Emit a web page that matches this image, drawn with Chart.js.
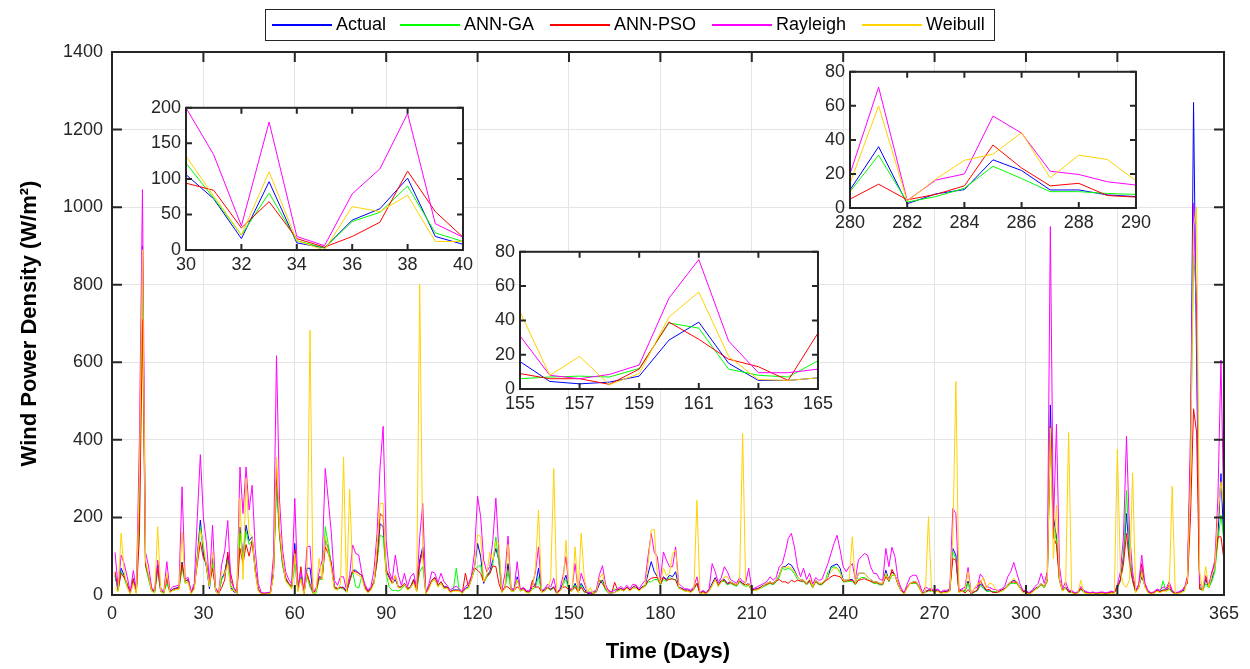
<!DOCTYPE html>
<html>
<head>
<meta charset="utf-8">
<script src="https://cdn.jsdelivr.net/npm/chart.js@4.4.1/dist/chart.umd.min.js"></script>
<style>
  body { margin: 0; background: #fff; width: 1250px; height: 669px; position: relative; overflow: hidden; }
  canvas { position: absolute; }
</style>
</head>
<body>
<canvas id="main" width="1250" height="669" style="left:0;top:0"></canvas>
<canvas id="inset1"></canvas>
<canvas id="inset2"></canvas>
<canvas id="inset3"></canvas>
<script>
const seriesNames = ['Actual', 'ANN-GA', 'ANN-PSO', 'Rayleigh', 'Weibull'];
const seriesColors = ['#0000ff', '#00ff00', '#ff0000', '#ff00ff', '#ffd200'];
const xTicksMain = [0, 30, 60, 90, 120, 150, 180, 210, 240, 270, 300, 330, 365];
const yTicksMain = [0, 200, 400, 600, 800, 1000, 1200, 1400];

// day index 1..365
const days = Array.from({ length: 365 }, (_, i) => i + 1);

const actual = [
  50,12,69,50,25,5,40,8,250,900, 80,45,12,8,77,12,5,45,9,15, 18,20,85,35,40,5,20,100,193,106,
  72,16,96,10,3,42,58,101,19,8, 5,175,100,180,140,150,70,15,5,4, 5,6,60,300,159,80,40,30,21,133,
  13,47,4,69,69,5,13,47,45,141, 120,81,21,17,20,20,9,38,64,64, 56,51,21,9,17,34,90,184,176,60,
  45,30,40,20,21,30,17,21,40,13, 90,124,4,21,38,45,26,34,21,21, 9,13,13,13,6,17,21,47,73,133,
  100,30,50,60,90,120,90,9,21,81, 13,13,47,13,17,9,8,20,25,69, 9,13,21,15,21,4,13,30,51,13,
  13,30,9,30,16,4.4,3,4,7.5,28.5, 39,15,5,5,6.5,13,17,13,20,13, 21,20,13,21,25,56,86,60,47,30,
  47,40,51,47,60,21,17,13,13,9, 17,30,4,9,4,13,30,45,26,38, 40,30,34,30,26,38,30,26,30,13,
  15,17,21,26,30,34,30,38,51,73, 73,81,77,64,47,40,38,30,38,21, 38,30,30,38,45,73,77,80,69,38,
  38,40,40,30,56,56,56,47,40,34, 34,30,30,64,38,60,51,30,13,4, 21,30,34,34,21,4,9,13,13,9,
  13,6,9,9,13,120,103,9,13,10.6, 36,2.5,8.3,10.8,28.3,22,10.6,10.6,7.7,6.7, 9,13,17,26,34,38,34,21,9,9,
  4,9,17,21,30,21,40,490,200,150, 40,13,21,9,9,4,6,17,9,6, 5,6,4,5,6,4,5,8,6,20,
  40,100,210,100,40,9,21,47,26,9, 4,6,13,9,13,13,17,9,4,6, 9,13,40,350,1270,600,20,13,40,21,
  40,70,150,313,120
];
const annGA = [
  55,10,60,45,20,3,35,5,200,800, 75,40,10,6,60,8,4,30,7,12, 14,16,70,30,35,4,18,90,176,122,
  73,21,80,13,3,40,53,90,24,12, 4,160,90,165,130,140,60,12,4,3, 4,5,50,280,150,75,38,28,18,81,
  10,45,3,50,20,4,5,40,40,176, 130,75,18,15,18,15,7,35,60,21, 18,48,18,7,15,30,85,154,150,55,
  20,12,12,10,15,25,14,18,35,10, 60,73,3,18,35,40,22,30,18,18, 7,10,69,10,5,15,18,40,65,73,
  77,34,45,55,80,150,80,7,18,60, 10,10,40,10,14,7,6,15,20,47, 7,10,18,12,18,3,10,25,40,10,
  10,25,7,25,6,7,7.5,7,12,38.5, 35.5,11.6,8,7,16.4,10,14,10,18,10, 18,18,10,18,22,34,34,40,40,26,
  40,35,45,40,40,18,14,10,10,7, 14,30,3,7,3,10,25,40,22,34, 35,26,30,26,22,34,26,22,25,10,
  12,14,18,22,26,30,26,34,45,69, 65,69,65,55,40,35,34,26,34,18, 34,26,26,34,60,69,73,70,60,34,
  34,35,35,26,40,45,45,40,35,30, 30,26,26,56,34,51,51,26,10,3, 18,30,30,30,18,3,7,10,10,7,
  10,5,7,7,10,110,95,7,10,9.6, 31,3.5,6.7,11.6,24.5,17.3,9.6,9.6,8.5,8, 7,10,14,22,30,30,30,18,7,7,
  3,7,14,18,26,18,35,400,180,140, 35,10,18,7,7,3,5,14,7,5, 4,5,3,4,5,3,4,6,5,18,
  35,90,270,110,35,7,18,65,22,7, 3,5,10,7,36,10,14,7,3,5, 7,10,40,330,880,760,20,10,30,18,
  35,60,140,206,140
];
const annPSO = [
  60,15,56,45,30,6,43,6,150,710, 77,50,15,10,69,10,6,42,8,14, 16,18,80,38,38,6,22,80,137,94,
  84,31,68,16,4,19,39,111,54,18, 6,120,80,130,100,140,65,15,4,4, 5,5,55,330,160,85,45,30,22,116,
  12,73,4,56,30,5,12,45,42,124, 107,80,20,16,20,18,8,36,62,60, 56,50,20,8,16,35,88,210,202,65,
  50,30,50,20,20,30,16,20,40,12, 80,116,4,20,38,45,25,34,20,20, 8,12,12,12,6,56,20,42,70,64,
  56,34,48,55,75,73,30,8,21,21, 12,12,21,15,17,8,8,38,20,21, 8,12,20,14,20,4,12,20,21,12,
  12,20,8,20,9,6,6,2.7,11.6,39, 29,17.4,13,5,32.6,12,16,12,20,12, 20,26,12,20,24,38,43,45,45,28,
  45,38,40,42,38,20,16,12,12,8, 16,30,4,8,4,12,26,42,25,36, 38,28,32,28,25,36,30,25,28,12,
  14,16,20,25,28,32,28,36,40,34, 34,30,38,34,38,36,36,28,36,20, 36,28,28,36,40,47,51,49,47,36,
  36,38,38,28,38,40,42,38,36,32, 32,28,28,47,36,66,51,28,12,4, 20,30,32,32,20,4,8,12,12,8,
  12,6,8,8,12,94,90,8,12,5.2, 14,4.8,8,13,37,23.5,13,14.5,7.3,6.4, 8,12,16,25,32,34,32,20,8,8,
  4,8,16,20,28,20,38,435,150,130, 38,12,20,8,8,4,6,16,8,6, 5,6,4,5,6,4,5,7,6,20,
  38,80,159,80,38,8,20,81,25,8, 4,6,12,8,12,12,26,8,4,6, 8,21,30,200,480,420,15,13,47,22,
  60,81,150,150,90
];
const rayleigh = [
  110,20,103,81,47,8,63,12,400,1045, 110,75,20,12,90,18,8,86,12,22, 23,26,279,42,45,8,30,200,362,200,
  134,34,180,19,6,79,114,192,37,18, 10,330,210,330,219,283,120,30,6,5, 6,8,100,617,244,116,60,40,28,249,
  20,60,6,124,126,8,18,60,90,326, 244,159,38,25,47,47,12,50,129,107, 103,56,28,12,22,64,159,330,435,141,
  60,40,103,50,25,56,22,47,56,18, 150,236,6,28,60,56,32,56,34,25, 13,18,23,16,8,22,28,50,110,255,
  202,90,60,73,140,250,110,12,56,152, 16,16,86,13,20,12,10,25,60,124, 12,16,28,20,43,6,16,47,99,16,
  16,81,12,56,31,8,6,8.5,14,53, 75.5,28,9.5,9.5,11.6,16,22,16,25,16, 28,25,16,28,38,103,159,110,99,38,
  111,90,73,73,124,30,22,16,16,12, 22,47,6,12,6,16,81,60,32,45, 73,60,40,35,30,45,35,32,69,16,
  18,22,26,30,35,47,38,45,73,81, 110,146,159,124,73,47,69,40,56,28, 45,38,40,60,81,107,133,154,116,73,
  60,73,81,40,90,99,107,103,73,56, 55,40,38,120,73,123,99,40,18,6, 28,47,51,51,30,6,21,16,16,12,
  16,8,12,12,16,223,210,12,16,20, 71,4.4,16.4,20,54,44,21.6,19.7,15.4,13.5, 12,16,22,47,60,84,56,30,12,12,
  6,12,22,30,56,30,60,950,170,440, 73,16,34,12,12,6,8,22,12,8, 6,8,5,7,8,6,7,10,8,25,
  60,150,409,160,60,12,28,103,32,12, 6,8,16,12,21,16,34,12,6,8, 12,16,50,420,1010,740,30,16,50,26,
  55,90,250,606,180
];
const weibull = [
  20,8,159,60,20,2,30,4,300,890, 90,50,10,5,176,10,3,56,6,12, 14,15,163,30,32,3,15,90,167,132,
  76,21,110,13,0,61,54,77,12,12, 3,250,40,300,160,150,60,10,3,2, 3,4,50,355,170,90,35,25,15,107,
  8,40,2,55,683,3,10,94,40,150, 110,70,15,12,30,356,5,273,60,55, 50,45,15,5,12,30,125,236,236,47,
  40,28,50,18,18,28,12,20,30,8, 800,100,2,15,35,40,20,30,15,18, 6,10,10,10,4,14,18,40,70,156,
  150,34,50,110,90,137,133,6,18,130, 10,10,40,10,13,6,5,15,70,219, 6,10,18,40,326,2,10,21,141,10,
  10,124,6,159,45,8,19,2.5,9,42, 56.5,19,5.5,5,6.5,10,14,10,18,10, 18,18,10,18,25,81,167,169,50,30,
  70,50,56,107,116,20,14,10,10,6, 14,244,2,6,2,10,25,40,22,34, 47,47,34,30,26,38,416,22,30,10,
  12,14,18,26,30,34,30,38,50,73, 70,73,70,60,47,40,38,30,43,20, 38,30,30,38,47,60,69,69,56,38,
  38,40,150,30,56,56,56,47,40,34, 34,30,30,56,38,55,51,30,10,2, 18,30,34,34,20,2,8,202,10,6,
  10,4,6,6,10,150,551,6,10,14.5, 60,4,17,28,31.6,44.3,17.7,31,28.5,16, 6,10,14,26,34,43,34,20,6,6,
  2,6,14,20,30,20,40,430,94,232, 40,10,20,419,6,2,4,38,6,4, 3,4,2,3,4,2,3,5,4,376,
  60,26,20,40,315,6,18,56,22,6, 2,4,10,6,10,10,14,280,2,4, 6,10,40,300,950,1000,60,10,73,20,
  50,70,200,292,220
];
const seriesValues = [actual, annGA, annPSO, rayleigh, weibull];

// zoomed windows: day range and tick labels
const insetDefs = [
  { id: 'inset1', from: 30, to: 40, xTicks: [30, 32, 34, 36, 38, 40], yTicks: [0, 50, 100, 150, 200],
    box: { left: 186, top: 106, right: 463, bottom: 250 } },
  { id: 'inset2', from: 155, to: 165, xTicks: [155, 157, 159, 161, 163, 165], yTicks: [0, 20, 40, 60, 80],
    box: { left: 520, top: 250, right: 819, bottom: 389 } },
  { id: 'inset3', from: 280, to: 290, xTicks: [280, 282, 284, 286, 288, 290], yTicks: [0, 20, 40, 60, 80],
    box: { left: 850, top: 70, right: 1137, bottom: 208 } }
];

const FONT = "'Liberation Sans', Arial, sans-serif";
const AXIS = '#262626';
const plain = v => String(v);

function makeSets(from, to) {
  return seriesValues.map((vals, k) => ({
    label: seriesNames[k],
    data: days.map((d, i) => ({ x: d, y: vals[i] })).filter(p => p.x >= from && p.x <= to),
    borderColor: seriesColors[k],
    backgroundColor: seriesColors[k],
    borderWidth: 1,
    pointRadius: 0,
    tension: 0,
    order: seriesValues.length - k
  }));
}

// MATLAB-like box with inward ticks
const boxPlugin = {
  id: 'box',
  beforeDraw(chart, args, opts) {
    if (!opts.fill) return;
    const a = chart.chartArea, ctx = chart.ctx;
    ctx.save();
    ctx.fillStyle = '#fff';
    ctx.fillRect(a.left, a.top, a.right - a.left, a.bottom - a.top);
    ctx.restore();
  },
  afterDraw(chart, args, opts) {
    const a = chart.chartArea, ctx = chart.ctx;
    const xs = chart.scales.x, ys = chart.scales.y, L = opts.tick;
    ctx.save();
    ctx.strokeStyle = AXIS;
    ctx.lineWidth = opts.width;
    ctx.beginPath();
    xs.ticks.forEach(t => {
      const px = xs.getPixelForValue(t.value);
      ctx.moveTo(px, a.bottom); ctx.lineTo(px, a.bottom - L);
      ctx.moveTo(px, a.top); ctx.lineTo(px, a.top + L);
    });
    ys.ticks.forEach(t => {
      const py = ys.getPixelForValue(t.value);
      ctx.moveTo(a.left, py); ctx.lineTo(a.left + L, py);
      ctx.moveTo(a.right, py); ctx.lineTo(a.right - L, py);
    });
    ctx.stroke();
    ctx.strokeRect(a.left, a.top, a.right - a.left, a.bottom - a.top);
    ctx.restore();
  }
};

// boxed horizontal legend at the top of the figure
const legendX = [272, 400, 550, 712, 862];
const legendBox = {
  id: 'legendBox',
  afterDraw(chart) {
    const ctx = chart.ctx;
    ctx.save();
    ctx.fillStyle = '#fff';
    ctx.fillRect(265, 9, 730, 32);
    ctx.strokeStyle = AXIS;
    ctx.lineWidth = 1;
    ctx.strokeRect(265.5, 9.5, 729, 31);
    ctx.font = '18px ' + FONT;
    ctx.textBaseline = 'middle';
    seriesNames.forEach((name, k) => {
      const x = legendX[k];
      ctx.fillStyle = seriesColors[k];
      ctx.fillRect(x, 24, 60, 2);
      ctx.fillStyle = '#000';
      ctx.fillText(name, x + 64, 25);
    });
    ctx.restore();
  }
};

new Chart(document.getElementById('main'), {
  type: 'line',
  data: { datasets: makeSets(1, 365) },
  options: {
    responsive: false,
    animation: false,
    devicePixelRatio: 1,
    layout: { padding: { left: 0, top: 52, right: 26, bottom: 0 }, autoPadding: false },
    plugins: { legend: { display: false }, tooltip: { enabled: false }, box: { tick: 10, width: 2, fill: false } },
    scales: {
      x: {
        type: 'linear', min: 0, max: 365,
        afterBuildTicks: s => { s.ticks = xTicksMain.map(v => ({ value: v })); },
        afterFit: s => { s.height = 74; },
        grid: { color: '#e4e4e4', drawTicks: false },
        border: { display: false },
        ticks: { padding: 8, autoSkip: false, maxRotation: 0, color: AXIS, callback: plain,
                 font: { family: FONT, size: 18 } },
        title: { display: true, text: 'Time (Days)', color: '#000', padding: { top: 0, bottom: 4 },
                 font: { family: FONT, size: 22, weight: 'bold' } }
      },
      y: {
        type: 'linear', min: 0, max: 1400,
        afterBuildTicks: s => { s.ticks = yTicksMain.map(v => ({ value: v })); },
        afterFit: s => { s.width = 112; },
        grid: { color: '#e4e4e4', drawTicks: false },
        border: { display: false },
        ticks: { padding: 9, color: AXIS, callback: plain, font: { family: FONT, size: 18 } },
        title: { display: true, text: 'Wind Power Density (W/m²)', color: '#000', padding: { top: 17, bottom: 0 },
                 font: { family: FONT, size: 22, weight: 'bold' } }
      }
    }
  },
  plugins: [boxPlugin, legendBox]
});

insetDefs.forEach(def => {
  const b = def.box;
  const padL = 50, padT = 14, padR = 18, padB = 32;
  const cv = document.getElementById(def.id);
  cv.width = b.right - b.left + padL + padR;
  cv.height = b.bottom - b.top + padT + padB;
  cv.style.left = (b.left - padL) + 'px';
  cv.style.top = (b.top - padT) + 'px';
  new Chart(cv, {
    type: 'line',
    data: { datasets: makeSets(def.from, def.to) },
    options: {
      responsive: false,
      animation: false,
      devicePixelRatio: 1,
      layout: { padding: { left: 0, top: padT, right: padR, bottom: 0 }, autoPadding: false },
      plugins: { legend: { display: false }, tooltip: { enabled: false }, box: { tick: 6, width: 2, fill: true } },
      scales: {
        x: {
          type: 'linear', min: def.from, max: def.to,
          afterBuildTicks: s => { s.ticks = def.xTicks.map(v => ({ value: v })); },
          afterFit: s => { s.height = padB; },
          grid: { display: false, drawTicks: false },
          border: { display: false },
          ticks: { padding: 4, autoSkip: false, maxRotation: 0, color: AXIS, callback: plain,
                   font: { family: FONT, size: 18 } }
        },
        y: {
          type: 'linear', min: 0, max: def.yTicks[def.yTicks.length - 1],
          afterBuildTicks: s => { s.ticks = def.yTicks.map(v => ({ value: v })); },
          afterFit: s => { s.width = padL; },
          grid: { display: false, drawTicks: false },
          border: { display: false },
          ticks: { padding: 5, color: AXIS, callback: plain, font: { family: FONT, size: 18 } }
        }
      }
    },
    plugins: [boxPlugin]
  });
});
</script>
</body>
</html>
